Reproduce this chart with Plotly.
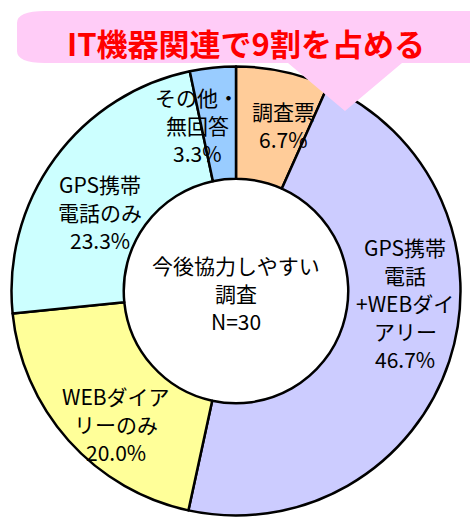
import plotly.graph_objects as go

# Survey responses: which survey method is easiest to cooperate with (N=30)
categories = ["調査票", "GPS携帯電話+WEBダイアリー", "WEBダイアリーのみ", "GPS携帯電話のみ", "その他・無回答"]
shares = [6.7, 46.7, 20.0, 23.3, 3.3]
slice_label_lines = [
    ["調査票", "6.7%"],
    ["GPS携帯", "電話", "+WEBダイ", "アリー", "46.7%"],
    ["WEBダイア", "リーのみ", "20.0%"],
    ["GPS携帯", "電話のみ", "23.3%"],
    ["その他・", "無回答", "3.3%"],
]
center_title_lines = ["今後協力しやすい", "調査", "N=30"]
callout_text = "IT機器関連で9割を占める"

colors = ["#FFCC99", "#CCCCFF", "#FFFF99", "#CCFFFF", "#99CCFF"]

W, H = 470, 518
FONT = "Noto Sans CJK JP"
LINE_GAP = 28  # px between text lines


def px(x, y):
    """Pixel position (from top-left) to paper coordinates."""
    return x / W, 1 - y / H


# label block centres in pixels (x, y)
label_pos = [(283, 125), (405, 303), (116, 424), (100, 212), (197, 125)]

cx, cy, r = 236, 291, 224.5
fig = go.Figure(
    go.Pie(
        labels=categories,
        values=shares,
        hole=0.5,
        sort=False,
        direction="clockwise",
        rotation=0,
        textinfo="none",
        hoverinfo="label+percent",
        marker=dict(colors=colors, line=dict(color="#000000", width=2.5)),
        domain=dict(x=[(cx - r) / W, (cx + r) / W], y=[1 - (cy + r) / H, 1 - (cy - r) / H]),
        showlegend=False,
    )
)

annotations = []


def add_block(lines, x, y, size=21):
    n = len(lines)
    for i, line in enumerate(lines):
        ax, ay = px(x, y + (i - (n - 1) / 2) * LINE_GAP)
        annotations.append(dict(
            x=ax, y=ay, xref="paper", yref="paper", text=line, showarrow=False,
            xanchor="center", yanchor="middle", align="center",
            font=dict(family=FONT, size=size, color="#000000"),
        ))


for lines, (x, y) in zip(slice_label_lines, label_pos):
    add_block(lines, x, y)

add_block(center_title_lines, 236, 293)

ax, ay = px(246, 42)
annotations.append(dict(
    x=ax, y=ay, xref="paper", yref="paper", text="<b>" + callout_text + "</b>", showarrow=False,
    xanchor="center", yanchor="middle",
    font=dict(family=FONT, size=31, color="#FF0000"),
))


# speech-bubble banner: rounded band with a pointer
def bubble_path():
    left, right, top, bot = 17, 475, 11, 63
    rx, ry = 28, 12
    tip = (345, 111)
    base_l, base_r = 288, 402

    def P(x, y):
        a, b = px(x, y)
        return f"{a:.5f},{b:.5f}"

    d = f"M {P(left + rx, top)} L {P(right, top)} L {P(right, bot)} "
    d += f"L {P(base_r, bot)} L {P(*tip)} L {P(base_l, bot)} "
    d += f"L {P(left + rx, bot)} Q {P(left, bot)} {P(left, bot - ry)} "
    d += f"L {P(left, top + ry)} Q {P(left, top)} {P(left + rx, top)} Z"
    return d


fig.update_layout(
    width=W, height=H,
    margin=dict(l=0, r=0, t=0, b=0),
    paper_bgcolor="#FFFFFF",
    plot_bgcolor="#FFFFFF",
    annotations=annotations,
    shapes=[dict(
        type="path", path=bubble_path(), xref="paper", yref="paper",
        fillcolor="#FFCCF7", line=dict(width=0), layer="above",
    )],
)

fig.write_html("out.html")
